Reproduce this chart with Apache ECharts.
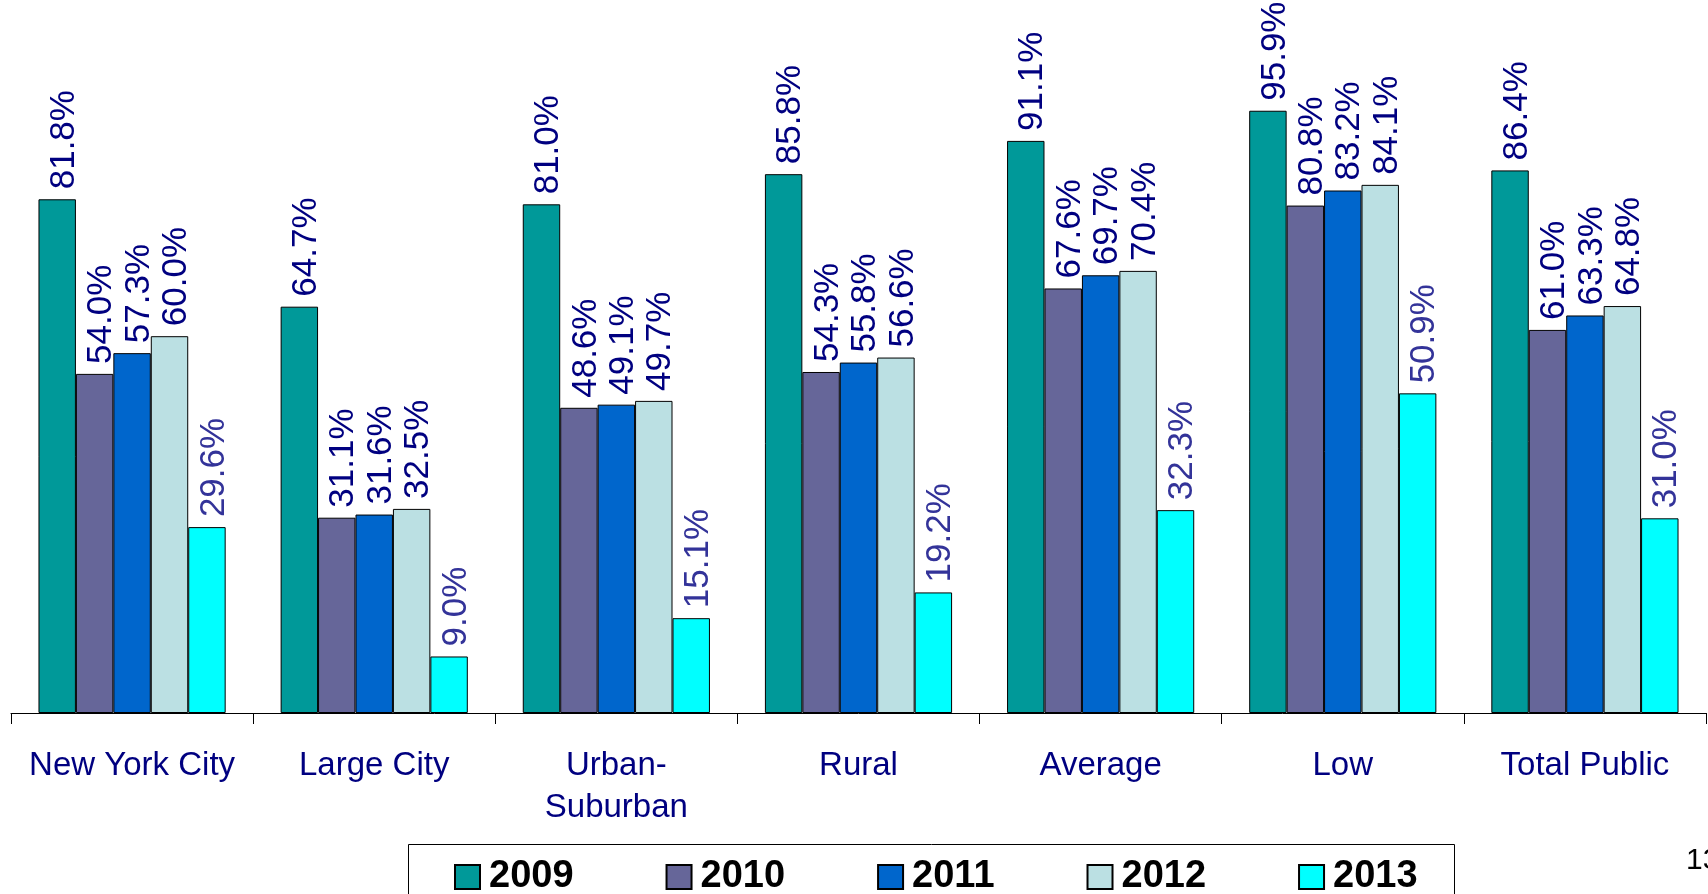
<!DOCTYPE html>
<html>
<head>
<meta charset="utf-8">
<script src="https://cdn.jsdelivr.net/npm/echarts@6/dist/echarts.min.js"></script>
<style>
html,body{margin:0;padding:0;background:#fff;}
#chart{width:1708px;height:894px;}
</style>
</head>
<body>
<div id="chart"></div>
<script>
const categories = ['New York City', 'Large City', 'Urban-\nSuburban', 'Rural', 'Average', 'Low', 'Total Public'];
const years = ['2009', '2010', '2011', '2012', '2013'];
const v2009 = [81.8, 64.7, 81.0, 85.8, 91.1, 95.9, 86.4];
const v2010 = [54.0, 31.1, 48.6, 54.3, 67.6, 80.8, 61.0];
const v2011 = [57.3, 31.6, 49.1, 55.8, 69.7, 83.2, 63.3];
const v2012 = [60.0, 32.5, 49.7, 56.6, 70.4, 84.1, 64.8];
const v2013 = [29.6, 9.0, 15.1, 19.2, 32.3, 50.9, 31.0];
const seriesValues = [v2009, v2010, v2011, v2012, v2013];
const colors = ['#009999', '#666699', '#0066CC', '#BBE0E3', '#00FFFF'];
const labelColors = ['#000080', '#000080', '#000080', '#000080', '#333399'];

const FONT = 'Liberation Sans, Arial, sans-serif';
const chart = echarts.init(document.getElementById('chart'), null, {renderer: 'canvas'});

const series = years.map((y, i) => ({
  name: y,
  type: 'bar',
  data: seriesValues[i],
  barGap: '0%',
  barCategoryGap: '22.7%',
  itemStyle: {color: colors[i], borderColor: '#000', borderWidth: 1},
  label: {
    show: true,
    position: 'top',
    rotate: 90,
    align: 'left',
    verticalAlign: 'middle',
    distance: 10,
    offset: [0, 7],
    formatter: p => p.value.toFixed(1) + '%',
    fontSize: 35,
    color: labelColors[i],
    fontFamily: FONT
  }
}));

chart.setOption({
  animation: false,
  backgroundColor: '#fff',
  grid: {left: 11, right: 2, top: 85, bottom: 181, containLabel: false},
  xAxis: {
    type: 'category',
    data: categories,
    axisLine: {lineStyle: {color: '#000', width: 1}},
    axisTick: {show: true, length: 11, lineStyle: {color: '#000'}},
    axisLabel: {color: '#000080', fontSize: 33, fontFamily: FONT, margin: 32, lineHeight: 42, interval: 0}
  },
  yAxis: {
    type: 'value', min: 0, max: 100, show: false,
    splitLine: {show: false}
  },
  legend: {
    data: years,
    left: 449,
    top: 853,
    icon: 'rect',
    itemWidth: 25,
    itemHeight: 24,
    itemGap: 92,
    textStyle: {fontSize: 38, fontWeight: 'bold', color: '#000', fontFamily: FONT, padding: [0, 0, 0, 4]}
  },
  graphic: [
    {type: 'rect', left: 406, top: 842, shape: {width: 1046, height: 80},
     style: {fill: 'none', stroke: '#000', lineWidth: 1}},
    {type: 'text', left: 1686, top: 846, style: {text: '13', fontSize: 30, fill: '#000', fontFamily: FONT}}
  ],
  series: series
});
</script>
</body>
</html>
